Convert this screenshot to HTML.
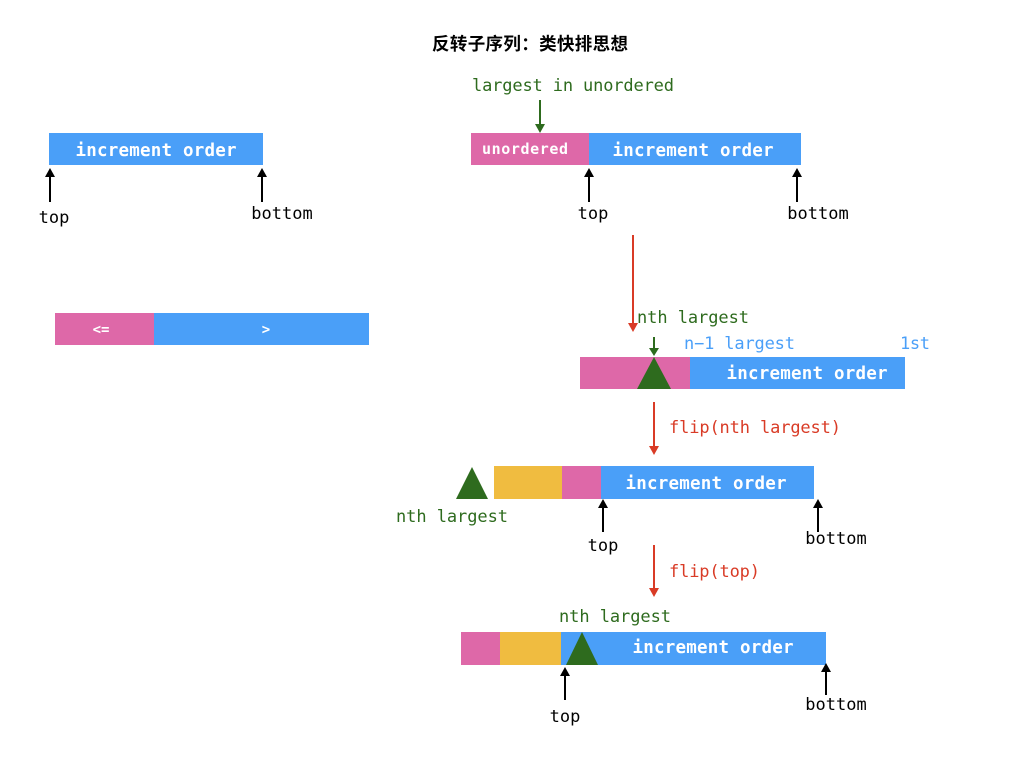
<!DOCTYPE html>
<html><head><meta charset="utf-8"><style>
html,body{margin:0;padding:0;background:#fff;}
svg{display:block;}
text{font-family:"DejaVu Sans Mono","Liberation Mono",monospace;}
.b{font-weight:bold;fill:#fff;font-size:17.5px;}
.k{fill:#000;font-size:17px;}
.g{fill:#2e6b1e;font-size:17px;}
.r{fill:#d93b26;font-size:17px;}
.bl{fill:#4a9ff8;font-size:17px;}
</style></head><body>
<svg width="1024" height="768" viewBox="0 0 1024 768" xmlns="http://www.w3.org/2000/svg">
<text x="530" y="50" text-anchor="middle" textLength="196" style="font-family:'Liberation Sans','Noto Sans CJK SC',sans-serif;font-weight:bold;font-size:17.5px;fill:#000">反转子序列：类快排思想</text>

<rect x="49" y="133" width="214" height="32" fill="#4a9ff8"/>
<text class="b" x="156" y="156" text-anchor="middle" textLength="161">increment order</text>
<g stroke="#000" stroke-width="2" fill="#000">
<line x1="50" y1="202" x2="50" y2="175"/><path d="M45,177 L55,177 L50,168 z" stroke="none"/>
<line x1="262" y1="202" x2="262" y2="175"/><path d="M257,177 L267,177 L262,168 z" stroke="none"/>
</g>
<text class="k" x="54" y="223" text-anchor="middle">top</text>
<text class="k" x="282" y="219" text-anchor="middle">bottom</text>

<rect x="55" y="313" width="99" height="32" fill="#de68a8"/>
<rect x="154" y="313" width="215" height="32" fill="#4a9ff8"/>
<text class="b" x="101" y="334" text-anchor="middle" style="font-size:14px">&lt;=</text>
<text class="b" x="266" y="334" text-anchor="middle" style="font-size:14px">&gt;</text>

<text class="g" x="573" y="91" text-anchor="middle" textLength="202">largest in unordered</text>
<line x1="540" y1="100" x2="540" y2="126" stroke="#2e6b1e" stroke-width="2"/><path d="M535,124 L545,124 L540,133 z" fill="#2e6b1e"/>
<rect x="471" y="133" width="118" height="32" fill="#de68a8"/>
<rect x="589" y="133" width="212" height="32" fill="#4a9ff8"/>
<text class="b" x="525" y="154" text-anchor="middle" style="font-size:15px" textLength="86">unordered</text>
<text class="b" x="693" y="156" text-anchor="middle" textLength="161">increment order</text>
<g stroke="#000" stroke-width="2" fill="#000">
<line x1="589" y1="202" x2="589" y2="175"/><path d="M584,177 L594,177 L589,168 z" stroke="none"/>
<line x1="797" y1="202" x2="797" y2="175"/><path d="M792,177 L802,177 L797,168 z" stroke="none"/>
</g>
<text class="k" x="593" y="219" text-anchor="middle">top</text>
<text class="k" x="818" y="219" text-anchor="middle">bottom</text>

<line x1="633" y1="235" x2="633" y2="325" stroke="#d93b26" stroke-width="2"/><path d="M628,323 L638,323 L633,332 z" fill="#d93b26"/>
<text class="g" x="637" y="323" textLength="112">nth largest</text>
<line x1="654" y1="337" x2="654" y2="350" stroke="#2e6b1e" stroke-width="2"/><path d="M649,348 L659,348 L654,356 z" fill="#2e6b1e"/>
<text class="bl" x="684" y="349" textLength="111">n−1 largest</text>
<text class="bl" x="900" y="349" textLength="30">1st</text>
<rect x="580" y="357" width="110" height="32" fill="#de68a8"/>
<rect x="690" y="357" width="215" height="32" fill="#4a9ff8"/>
<path d="M654,357 L671,389 L637,389 z" fill="#2e6b1e"/>
<text class="b" x="807" y="379" text-anchor="middle" textLength="161">increment order</text>

<line x1="654" y1="402" x2="654" y2="448" stroke="#d93b26" stroke-width="2"/><path d="M649,446 L659,446 L654,455 z" fill="#d93b26"/>
<text class="r" x="669" y="433" textLength="172">flip(nth largest)</text>

<path d="M472,467 L488,499 L456,499 z" fill="#2e6b1e"/>
<rect x="494" y="466" width="68" height="33" fill="#f0bc40"/>
<rect x="562" y="466" width="39" height="33" fill="#de68a8"/>
<rect x="601" y="466" width="213" height="33" fill="#4a9ff8"/>
<text class="b" x="706" y="489" text-anchor="middle" textLength="161">increment order</text>
<text class="g" x="452" y="522" text-anchor="middle" textLength="112">nth largest</text>
<g stroke="#000" stroke-width="2" fill="#000">
<line x1="603" y1="532" x2="603" y2="506"/><path d="M598,508 L608,508 L603,499 z" stroke="none"/>
<line x1="818" y1="532" x2="818" y2="506"/><path d="M813,508 L823,508 L818,499 z" stroke="none"/>
</g>
<text class="k" x="603" y="551" text-anchor="middle">top</text>
<text class="k" x="836" y="544" text-anchor="middle">bottom</text>

<line x1="654" y1="545" x2="654" y2="590" stroke="#d93b26" stroke-width="2"/><path d="M649,588 L659,588 L654,597 z" fill="#d93b26"/>
<text class="r" x="669" y="577" textLength="91">flip(top)</text>

<text class="g" x="615" y="622" text-anchor="middle" textLength="112">nth largest</text>
<rect x="461" y="632" width="39" height="33" fill="#de68a8"/>
<rect x="500" y="632" width="61" height="33" fill="#f0bc40"/>
<rect x="561" y="632" width="265" height="33" fill="#4a9ff8"/>
<path d="M582,632 L598,665 L566,665 z" fill="#2e6b1e"/>
<text class="b" x="713" y="653" text-anchor="middle" textLength="161">increment order</text>
<g stroke="#000" stroke-width="2" fill="#000">
<line x1="565" y1="700" x2="565" y2="674"/><path d="M560,676 L570,676 L565,667 z" stroke="none"/>
<line x1="826" y1="695" x2="826" y2="670"/><path d="M821,672 L831,672 L826,663 z" stroke="none"/>
</g>
<text class="k" x="565" y="722" text-anchor="middle">top</text>
<text class="k" x="836" y="710" text-anchor="middle">bottom</text>
</svg>
</body></html>
